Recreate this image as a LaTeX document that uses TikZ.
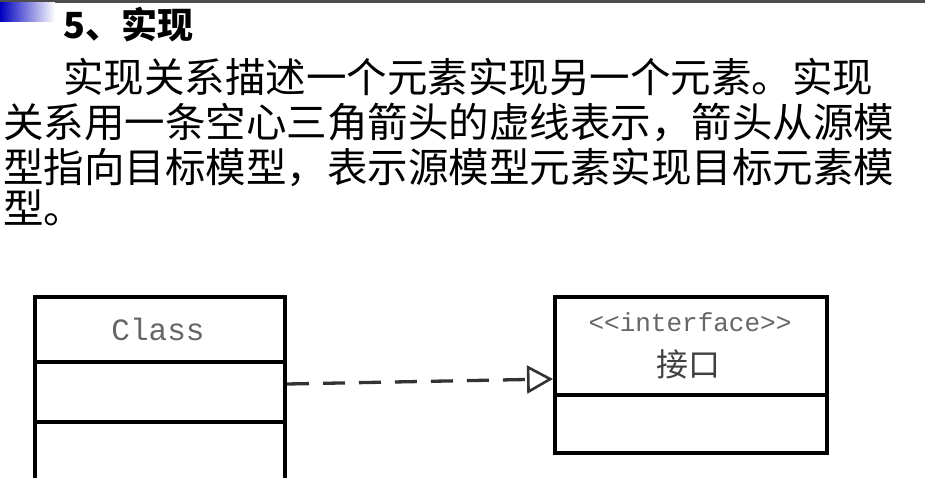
\documentclass[tikz,border=0pt]{standalone}
\usepackage{fontspec}
\newfontfamily\cjk{Noto Sans CJK SC}
\newfontfamily\mono{Liberation Mono}
\usetikzlibrary{arrows.meta}
\begin{document}
\begin{tikzpicture}[x=1pt,y=-1pt,
  txt/.style={anchor=base west,inner sep=0,font=\cjk\fontsize{40.5}{42}\selectfont},
  umlbox/.style={draw,line width=3.3pt},
  lbl/.style={inner sep=0,text=black!60}]
\useasboundingbox (0,0) rectangle (925,478);
\fill[white] (0,0) rectangle (925,478);
\fill[black!70] (0,0) rectangle (925,3);
\shade[left color=blue!75!black,right color=white] (0,3) rectangle (55,22);
\node[txt,font=\cjk\bfseries\fontsize{36}{38}\selectfont] (t) at (63,39) {5、实现};
\node[txt] (l1) at (63,93) {实现关系描述一个元素实现另一个元素。实现};
\node[txt] (l2) at (3,138) {关系用一条空心三角箭头的虚线表示，箭头从源模};
\node[txt] (l3) at (3,183) {型指向目标模型，表示源模型元素实现目标元素模};
\node[txt] (l4) at (3,223) {型。};
% Class box
\draw[umlbox] (35,480) -- (35,297) -- (285,297) -- (285,480);
\draw[umlbox] (35,362) -- (285,362);
\draw[umlbox] (35,422) -- (285,422);
\node[lbl,font=\mono\fontsize{31}{33}\selectfont] (cls) at (158,329) {Class};
\coordinate (cr) at (287,384);
% Interface box
\draw[umlbox] (555,297) rectangle (827,453);
\draw[umlbox] (555,395) -- (827,395);
\node[lbl,font=\mono\fontsize{26}{28}\selectfont] (st) at (690,322) {<<interface>>};
\node[lbl,text=black!75,font=\cjk\fontsize{32}{34}\selectfont] (nm) at (688,364) {接口};
\coordinate (il) at (553,379);
\draw[line width=3.3pt,black!80,dash pattern=on 22pt off 14pt,-{Triangle[open,length=26pt,width=28pt,line width=2.6pt]}] (cr) -- (il);
\end{tikzpicture}
\end{document}
